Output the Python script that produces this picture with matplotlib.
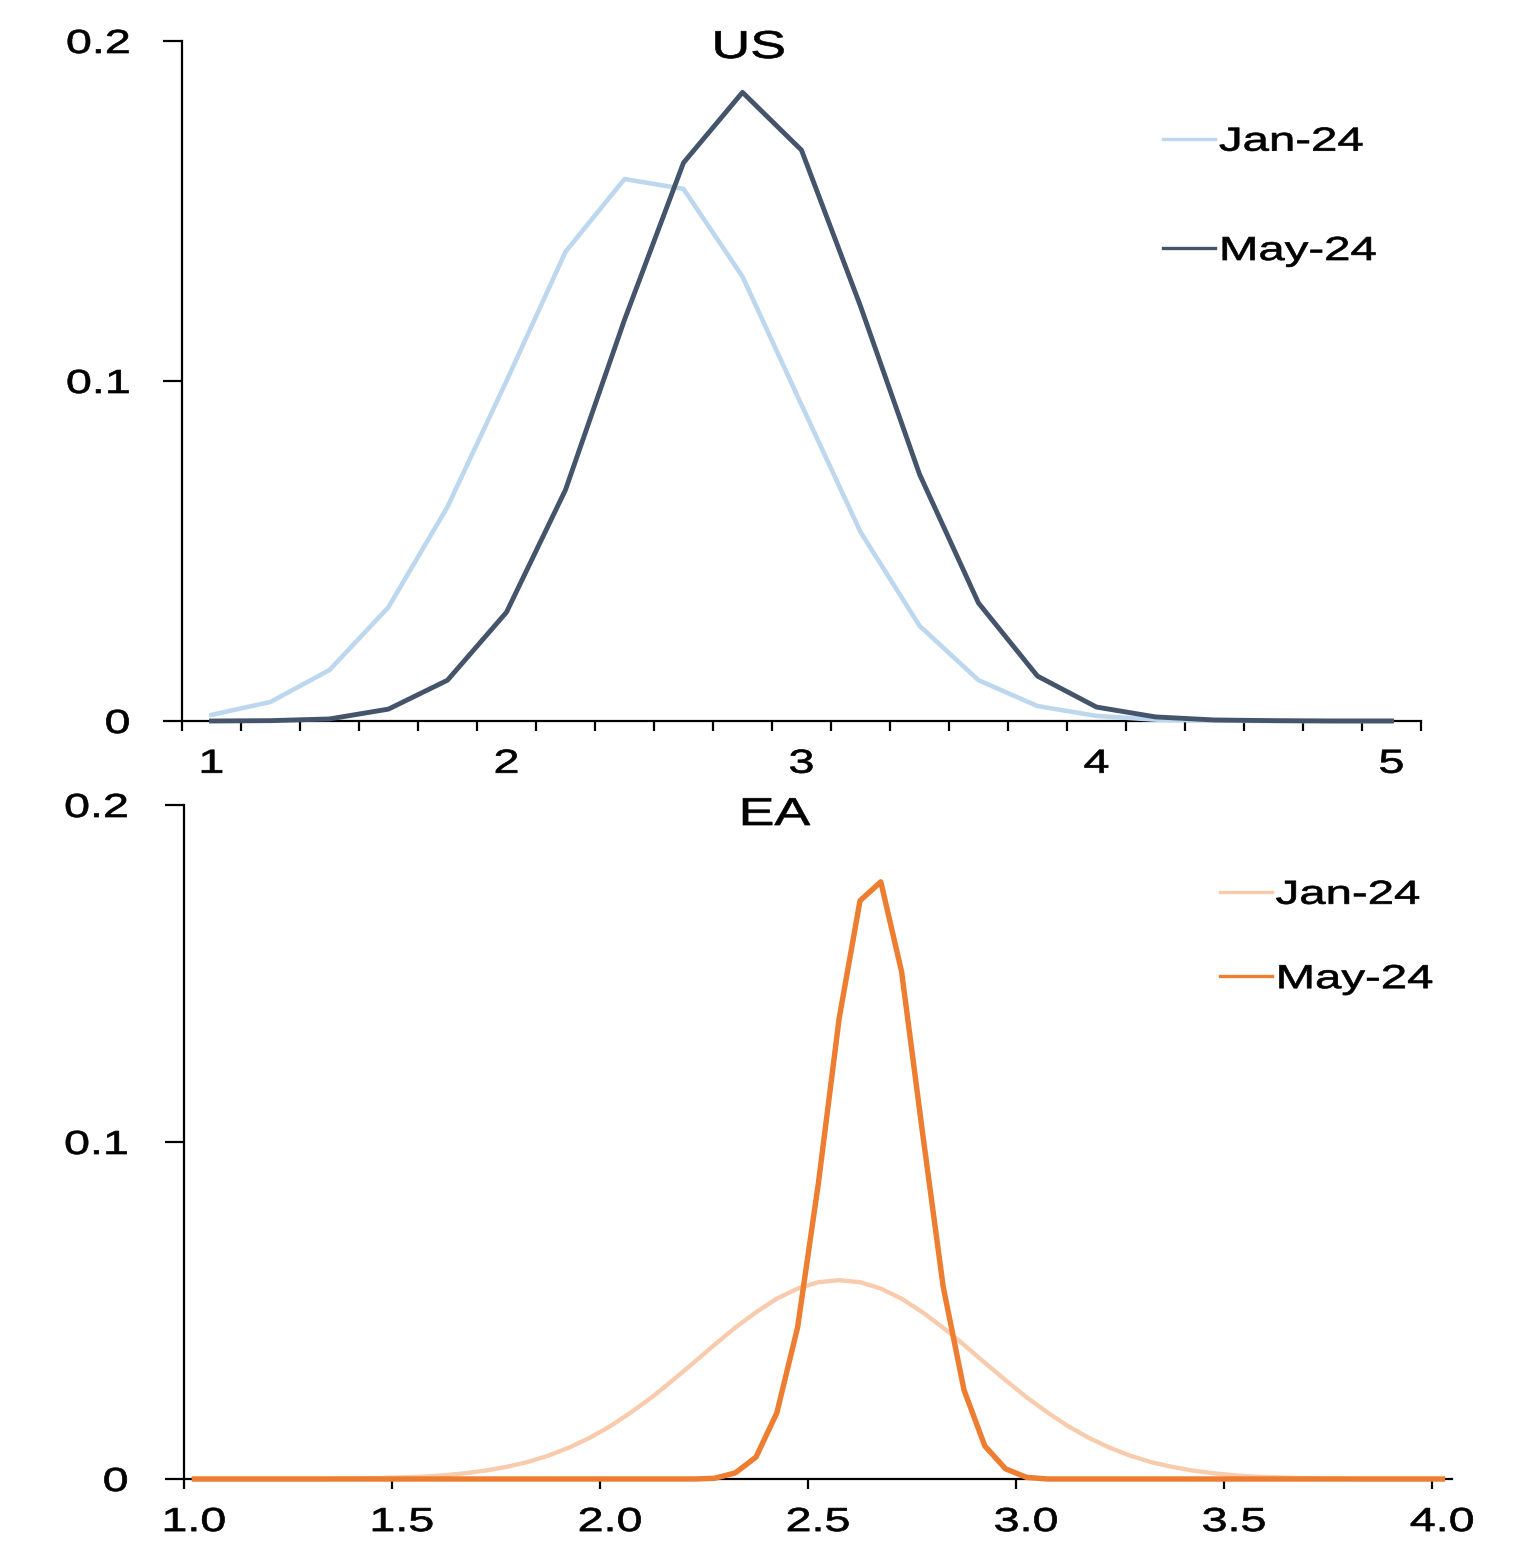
import numpy as np
import matplotlib
matplotlib.use("Agg")
import matplotlib.pyplot as plt
import matplotlib.patheffects as pe
import matplotlib.transforms as mtransforms

plt.rcParams['font.family'] = ['Liberation Sans', 'DejaVu Sans']

# US: probability per bin, bins 1.0 .. 5.0 step 0.2
us_x = [1.0, 1.2, 1.4, 1.6, 1.8, 2.0, 2.2, 2.4, 2.6, 2.8, 3.0,
        3.2, 3.4, 3.6, 3.8, 4.0, 4.2, 4.4, 4.6, 4.8, 5.0]
us_jan = [0.0018, 0.0056, 0.015, 0.0335, 0.063, 0.100, 0.138, 0.1594, 0.1565, 0.1307, 0.093,
          0.0556, 0.028, 0.012, 0.0044, 0.0015, 0.0004, 0.0001, 0.0, 0.0, 0.0]
us_may = [0.0, 0.0001, 0.0006, 0.0035, 0.012, 0.032, 0.068, 0.118, 0.1642, 0.1849, 0.1679,
          0.122, 0.0726, 0.0347, 0.0132, 0.0041, 0.0012, 0.0003, 0.0001, 0.0, 0.0]

# EA: bins centred 1.025 .. 4.025 step 0.05
ea_x = [1.025, 1.075, 1.125, 1.175, 1.225, 1.275, 1.325, 1.375, 1.425, 1.475,
        1.525, 1.575, 1.625, 1.675, 1.725, 1.775, 1.825, 1.875, 1.925, 1.975,
        2.025, 2.075, 2.125, 2.175, 2.225, 2.275, 2.325, 2.375, 2.425, 2.475,
        2.525, 2.575, 2.625, 2.675, 2.725, 2.775, 2.825, 2.875, 2.925, 2.975,
        3.025, 3.075, 3.125, 3.175, 3.225, 3.275, 3.325, 3.375, 3.425, 3.475,
        3.525, 3.575, 3.625, 3.675, 3.725, 3.775, 3.825, 3.875, 3.925, 3.975, 4.025]
ea_jan = [0, 0, 0, 0, 0, 0, 0, 0.0001, 0.0002, 0.0003,
          0.0005, 0.0007, 0.0011, 0.0017, 0.0025, 0.0036, 0.0050, 0.0069, 0.0093, 0.0122,
          0.0157, 0.0198, 0.0243, 0.0293, 0.0345, 0.0398, 0.0449, 0.0495, 0.0535, 0.0565,
          0.0584, 0.0590, 0.0584, 0.0565, 0.0535, 0.0495, 0.0449, 0.0398, 0.0345, 0.0293,
          0.0243, 0.0198, 0.0157, 0.0122, 0.0093, 0.0069, 0.0050, 0.0036, 0.0025, 0.0017,
          0.0011, 0.0007, 0.0005, 0.0003, 0.0002, 0.0001, 0, 0, 0, 0, 0]
ea_may = [0, 0, 0, 0, 0, 0, 0, 0, 0, 0,
          0, 0, 0, 0, 0, 0, 0, 0, 0, 0,
          0, 0, 0, 0, 0, 0.0002, 0.0018, 0.0065, 0.0196, 0.045,
          0.0878, 0.1368, 0.1716, 0.1772, 0.1505, 0.103, 0.057, 0.0264, 0.0098, 0.003,
          0.0005, 0, 0, 0, 0, 0, 0, 0, 0, 0,
          0, 0, 0, 0, 0, 0, 0, 0, 0, 0, 0]

labels = ['Jan-24', 'May-24']


# the reference text is drawn wide and a bit heavy: stretch glyphs horizontally
class Stretch(pe.AbstractPathEffect):
    def __init__(self, sx=1.4, anchor='center', stroke=0.5):
        super().__init__()
        self.sx = sx
        self.anchor = anchor
        self.stroke = stroke

    def draw_path(self, renderer, gc, tpath, affine, rgbFace=None):
        ext = tpath.get_extents()
        if self.anchor == 'left':
            cx = 0
        elif self.anchor == 'right':
            cx = ext.x1
        else:
            cx = (ext.x0 + ext.x1) / 2
        t = mtransforms.Affine2D().translate(-cx, 0).scale(self.sx, 1).translate(cx, 0)
        gc0 = renderer.new_gc()
        gc0.copy_properties(gc)
        gc0.set_linewidth(self.stroke)
        if rgbFace is not None:
            gc0.set_foreground(rgbFace)
        renderer.draw_path(gc0, tpath, t + affine, rgbFace)
        gc0.restore()


W, H = 1513, 1543
fig = plt.figure(figsize=(W / 100, H / 100), dpi=100)
ax1 = fig.add_axes([182 / W, 1 - 721 / H, (1421 - 182) / W, 680 / H])
ax2 = fig.add_axes([184 / W, 1 - 1479 / H, (1452 - 184) / W, 674 / H])

tick_fs = 24


def style_axes(ax, ypad):
    for s in ['top', 'right']:
        ax.spines[s].set_visible(False)
    for s in ['left', 'bottom']:
        ax.spines[s].set_linewidth(1.6)
        ax.spines[s].set_color('black')
    ax.set_ylim(0, 0.2)
    ax.set_yticks([0, 0.1, 0.2], ['0', '0.1', '0.2'])
    ax.tick_params(axis='y', length=13.7, width=1.6, pad=ypad, labelsize=tick_fs)
    for lab in ax.get_yticklabels():
        lab.set_path_effects([Stretch(1.4, 'right')])


# ---- US ----
ax1.plot(us_x, us_jan, color='#BDD7EE', lw=3.3, label=labels[0], clip_on=False, zorder=3)
ax1.plot(us_x, us_may, color='#44546A', lw=3.5, label=labels[1], clip_on=False, zorder=3)
ax1.set_xlim(0.9, 5.1)
style_axes(ax1, 23.8)
ax1.set_xticks([1, 2, 3, 4, 5], ['1', '2', '3', '4', '5'])
ax1.set_xticks(np.arange(0.9, 5.11, 0.2), minor=True)
ax1.tick_params(axis='x', which='major', length=0, pad=20, labelsize=tick_fs)
ax1.tick_params(axis='x', which='minor', length=7.2, width=1.6)
for lab in ax1.get_xticklabels():
    lab.set_path_effects([Stretch(1.4, 'center')])
ax1.text(0.4576, 0.975, 'US', transform=ax1.transAxes, ha='center', va='baseline',
         fontsize=28, path_effects=[Stretch(1.38, 'center')])
leg1 = ax1.legend(loc='upper left', bbox_to_anchor=(0.792, 0.874), frameon=False,
                  fontsize=tick_fs, handlelength=1.55, handletextpad=0.12,
                  labelspacing=2.35, borderpad=0, borderaxespad=0)
for t in leg1.get_texts():
    t.set_path_effects([Stretch(1.42, 'left')])
for l in leg1.get_lines():
    l.set_linewidth(2.4)

# ---- EA ----
ax2.plot(ea_x, ea_jan, color='#F8CBAD', lw=3.1, label=labels[0], clip_on=False, zorder=3)
ax2.plot(ea_x, ea_may, color='#ED7D31', lw=3.9, label=labels[1], clip_on=False, zorder=3)
ax2.set_xlim(1.0, 4.048)
style_axes(ax2, 26.6)
ax2.set_xticks([1.0, 1.5, 2.0, 2.5, 3.0, 3.5, 4.0], ['1.0', '1.5', '2.0', '2.5', '3.0', '3.5', '4.0'])
ax2.tick_params(axis='x', length=7.2, width=1.6, pad=13, labelsize=tick_fs)
shift = mtransforms.ScaledTranslation(0.10, 0, fig.dpi_scale_trans)
for lab in ax2.get_xticklabels():
    lab.set_path_effects([Stretch(1.4, 'center')])
    lab.set_transform(lab.get_transform() + shift)
ax2.text(0.4661, 0.9703, 'EA', transform=ax2.transAxes, ha='center', va='baseline',
         fontsize=28, path_effects=[Stretch(1.38, 'center')])
leg2 = ax2.legend(loc='upper left', bbox_to_anchor=(0.817, 0.889), frameon=False,
                  fontsize=tick_fs, handlelength=1.55, handletextpad=0.12,
                  labelspacing=1.6, borderpad=0, borderaxespad=0)
for t in leg2.get_texts():
    t.set_path_effects([Stretch(1.42, 'left')])
for l in leg2.get_lines():
    l.set_linewidth(2.4)

fig.savefig('out.png', dpi=100)
